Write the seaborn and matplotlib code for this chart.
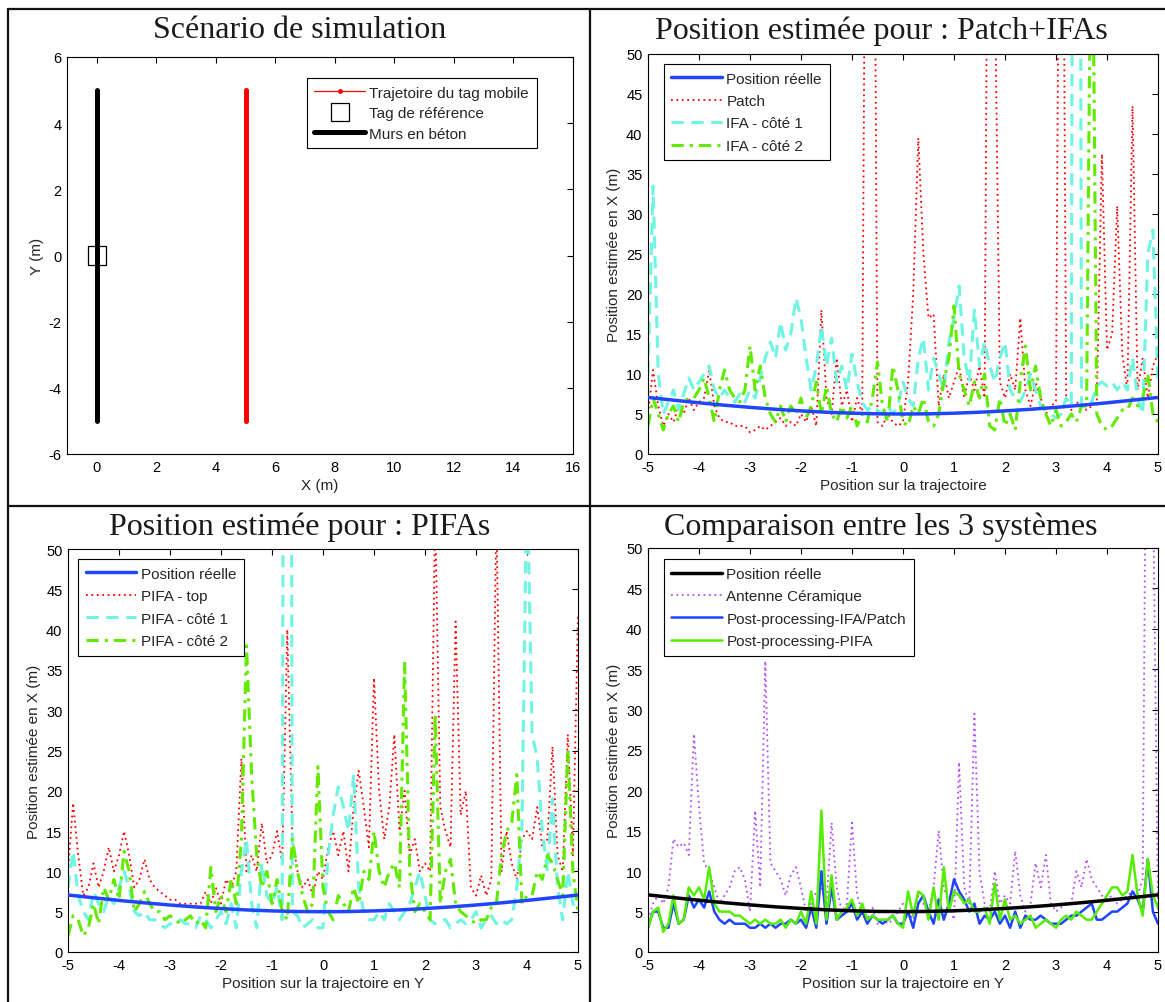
import numpy as np
import matplotlib
matplotlib.use("Agg")
import matplotlib.pyplot as plt
from matplotlib.lines import Line2D
import seaborn as sns

# ---------------------------------------------------------------- data
# sampling positions along the trajectory (m)
positions = np.round(np.linspace(-5.0, 5.0, 101), 2)
positions_coarse = np.round(np.linspace(-5.0, 5.0, 21), 2)

# true X position of the mobile tag (m)
reelle = [7.07, 6.73, 6.40, 6.10, 5.83, 5.59, 5.39, 5.22, 5.10, 5.02, 5.00,
          5.02, 5.10, 5.22, 5.39, 5.59, 5.83, 6.10, 6.40, 6.73, 7.07]

# scenario
traj_y = np.round(np.linspace(-5.0, 5.0, 201), 3)
traj_x = [5.0] * len(traj_y)
wall_x = [0.0, 0.0]
wall_y = [-5.0, 5.0]
tag_x = [0.0]
tag_y = [0.0]

# Patch + IFAs
patch = [5, 10.5, 6, 3.5, 5, 4, 6, 5, 7, 5.5,
         6.5, 7, 10.5, 6, 4.5, 4, 4, 3.5, 3.5, 3.5,
         2.7, 3, 3.5, 3, 3.5, 4, 4.5, 3.5, 4, 3.5,
         5, 4, 6, 3.5, 18, 7, 5, 12, 6, 8,
         4, 7, 5, 120, 120, 4, 3.5, 5, 4, 3.5,
         4, 9, 20, 39.5, 25, 17, 17.5, 6, 10, 7,
         9, 11, 7, 10, 8, 11, 7, 120, 60, 9,
         7, 10, 8, 17, 8, 6, 9, 7, 5, 6,
         6.5, 120, 6.5, 5.5, 6.5, 6, 5.5, 6, 6.5, 37.5,
         13, 15, 31, 12.5, 8, 43.5, 8, 12, 7, 11,
         12.5]
ifa_c1 = [10, 33.5, 10, 5, 6.5, 8, 5.5, 7.5, 9.5, 8,
          9, 10, 11, 8, 7, 8, 7, 6.5, 7.5, 6.5,
          8, 7, 9.5, 12, 14, 12, 16.5, 13, 15, 19.5,
          17, 12, 8, 11, 16, 11, 14.5, 9, 11, 8,
          12.5, 9, 6.5, 5.5, 6, 5.5, 5, 6, 5, 6,
          9, 7, 6, 12, 14.5, 8, 12, 10, 8, 14,
          17, 21, 12, 9, 18, 11, 14, 11, 9, 12,
          14, 8, 7, 6.5, 8, 10, 8, 6, 5.5, 5,
          4.5, 5, 7, 6, 300, 6, 6, 6.5, 8.5, 9,
          8.5, 9, 8, 9, 8, 12, 7, 5, 25, 28,
          9]
ifa_c2 = [3.5, 7, 5, 3, 5, 6, 4, 6.5, 7, 7,
          8, 9.5, 7, 4, 8, 10.5, 8, 7, 6.5, 8,
          13.5, 8, 11, 7, 5, 4, 6, 4, 6, 5,
          7, 4.5, 6, 9, 5, 8.5, 5, 4, 6, 4.5,
          6, 3.5, 5, 4, 7, 11.5, 6, 4, 11, 8,
          4, 3.5, 6, 5, 7, 4, 3.5, 5, 9, 12,
          18.5, 10, 8, 6, 9, 7, 10, 3.5, 3, 7,
          3.5, 5, 3, 9, 13.5, 8, 11, 7, 5, 3.5,
          5.5, 3.5, 4, 5, 4, 6, 6, 80, 5, 3.5,
          3, 3.5, 4.5, 5.5, 5.5, 7, 6, 7, 10, 5,
          4]

# PIFAs
pifa_top = [10, 18.5, 12, 7, 8, 11, 8, 10, 13, 10,
            12, 15, 12, 8, 9, 11.5, 9, 8, 7.5, 7,
            6.5, 6.5, 6, 6, 6, 6, 6, 7.5, 6, 8,
            6, 9, 8, 10, 24, 10, 12, 10, 16, 11,
            12, 15, 11, 40, 14, 10, 8, 9, 7, 10,
            9, 13, 15, 12, 15, 10, 18, 22.5, 18, 13,
            34, 20, 14, 18, 27, 15, 20, 12, 14, 10,
            11, 10, 55, 18, 15, 13, 41, 17, 20, 8,
            7, 9.5, 7, 9, 55, 10, 15, 11, 9, 14,
            15, 14, 18, 13, 14, 25.5, 12, 10, 27, 12,
            42]
pifa_c1 = [8, 12.5, 7, 5, 4, 7.5, 6, 5, 7, 6,
           8, 10, 8, 5, 4.5, 5, 4, 4, 3.5, 3,
           3.5, 3.5, 4, 3.5, 3.5, 3, 4.5, 4, 3, 4,
           5, 3.5, 6, 3, 10, 14, 6, 3, 11, 7,
           6, 8, 4, 300, 5, 4.5, 3, 3.5, 4, 3,
           3, 12, 17, 20.5, 18, 15, 22, 8, 5, 4,
           4, 5, 4, 6, 5, 4, 5, 6, 8, 10,
           7, 4, 3.5, 4, 4, 3, 3.5, 4, 3.5, 4,
           5, 3, 4, 4.5, 3.5, 4, 3.5, 4, 8, 15,
           60, 27, 24, 15, 10, 19, 8, 4, 10, 6,
           5]
pifa_c2 = [2, 4.5, 4, 2, 3, 6, 3.5, 8, 6.5, 9,
           6.5, 12.5, 10, 5, 6, 7.5, 6, 5, 5, 4,
           4.5, 4, 3.5, 4, 4.5, 3.5, 4, 3, 10.5, 5,
           7, 5, 9, 6, 14, 38, 22, 12, 8, 10,
           6, 9, 5, 4, 14, 10, 7, 5, 6, 23,
           8, 5, 4, 7, 6, 5, 8, 6, 10, 9,
           15, 10, 8, 10, 11, 8, 36, 10, 5, 6,
           5, 4, 29.5, 6, 10, 11.5, 6, 5, 4.5, 4,
           3.5, 4, 4, 5.5, 6, 12, 15, 16, 22, 6,
           7, 7, 10, 9, 12, 11, 9, 7, 25, 10,
           5]

# comparison of the three systems
ceramique = [4, 6, 7, 6, 8, 14, 13, 13.5, 12, 27,
             18, 11, 10, 8, 6, 7, 8, 10, 10.5, 9,
             5, 17.5, 8, 36, 11, 10, 9, 7, 9.5, 10.5,
             8, 5, 6, 7.5, 8, 6, 16, 8, 5, 6,
             16, 7, 5, 4, 5.5, 3.5, 4, 3.5, 4, 5,
             6, 5, 4, 7, 6, 5, 8, 15, 8, 6,
             4, 23.5, 8, 6, 29.5, 10, 6, 5, 10, 6,
             7, 6, 12.5, 7, 5, 6, 11, 8, 12, 6,
             5, 5.5, 6, 6, 10, 8, 11.5, 9, 8, 7,
             6.5, 7, 6, 6.5, 7, 7.5, 7, 9, 100, 60,
             5]
pp_ifa_patch = [3, 5, 5, 3, 3, 6, 3.5, 4, 7, 5.5,
                6.5, 5.5, 7.5, 5, 4, 3.5, 4, 3.5, 3.5, 3.5,
                3, 3, 3.5, 3, 3.5, 3, 3.5, 3.5, 4, 3.5,
                4, 3, 5.5, 3, 10, 3.5, 8, 4, 4.5, 5,
                6, 4, 5, 3.5, 4.5, 4, 3.5, 4, 4.5, 3.5,
                3.5, 5, 3, 6, 7, 5, 3.5, 6.5, 4, 6,
                9, 7.5, 6.5, 5, 6, 3.5, 4.5, 4, 5, 3.5,
                4.5, 3, 5, 3, 4.5, 4, 4, 4.5, 4, 3.5,
                3.5, 3.5, 4, 4.5, 4.5, 5, 5.5, 6, 4, 4,
                4.5, 5, 5, 5.5, 6, 7.5, 6.5, 5, 11.5, 5,
                3.5]
pp_pifa = [3, 5, 5.5, 2.5, 3.5, 7, 3.5, 4, 8, 7,
           8, 6.5, 10.5, 6, 5, 5, 5, 4.5, 4.5, 4,
           3.5, 4, 3.5, 4, 3.5, 3.5, 4, 3, 4, 3.5,
           5, 3.5, 7.5, 3.5, 17.5, 4, 9.5, 4, 5, 5.5,
           6.5, 4.5, 6, 4, 4.5, 4, 4, 4, 4.5, 3.5,
           3, 7.5, 4.5, 7.5, 7, 4, 8, 4, 10.5, 5,
           7.5, 7, 6, 6.5, 5, 5, 5.5, 3.5, 8.5, 4,
           6.5, 4, 4.5, 3.5, 4, 4.5, 3, 3.5, 4, 3.5,
           3, 4, 4.5, 4, 5, 4.5, 4, 4, 5, 6,
           7, 8, 8, 7, 7.5, 12, 7, 4.5, 11.5, 7,
           5.5]

# ---------------------------------------------------------------- style
sns.set_theme(style="white")
plt.rcParams['font.family'] = ['Liberation Sans', 'DejaVu Sans']
plt.rcParams['axes.unicode_minus'] = False
plt.rcParams['axes.edgecolor'] = 'black'
plt.rcParams['axes.linewidth'] = 0.8

BLUE = '#1f45ff'
RED = '#ff0000'
CYAN = '#6ff5e2'
GREEN_DD = '#62ea00'
PURPLE = '#b54dff'
GREEN = '#55ee00'

FS = 11       # labels and legends
TICK_FS = 10.5

W, H = 1165, 1003
fig = plt.figure(figsize=(W / 100, H / 100), dpi=100)
fig.patch.set_facecolor('white')


def px_axes(left, top, right, bottom):
    return fig.add_axes([left / W, 1 - bottom / H, (right - left) / W, (bottom - top) / H])


def style_axes(ax):
    ax.tick_params(direction='in', top=True, right=True, length=4, width=0.8,
                   labelsize=TICK_FS, colors='black', pad=4)
    for s in ax.spines.values():
        s.set_visible(True)
        s.set_color('black')
        s.set_linewidth(0.8)
    ax.grid(False)


def add_legend(ax, handles, labels, anchor, loc='upper left', spacing=0.55):
    leg = ax.legend(handles, labels, loc=loc, bbox_to_anchor=anchor, fontsize=FS,
                    frameon=True, fancybox=False, framealpha=1, edgecolor='black',
                    handlelength=3.3, handletextpad=0.3, labelspacing=spacing,
                    borderpad=0.5, borderaxespad=0)
    leg.get_frame().set_linewidth(0.8)
    return leg


def line(ax, x, y, **kw):
    sns.lineplot(x=x, y=y, ax=ax, estimator=None, sort=False, legend=False, **kw)
    return ax.lines[-1]


# ---------------------------------------------------------------- panel 1
ax1 = px_axes(67, 58, 573, 455)
line(ax1, traj_x, traj_y, color=RED, linewidth=0.9, marker='.',
     markersize=5.5, markeredgewidth=0.8, markeredgecolor=RED)
line(ax1, wall_x, wall_y, color='black', linewidth=3.6)
sns.scatterplot(x=tag_x, y=tag_y, ax=ax1, marker='s', s=170, facecolor='none',
                edgecolor='black', linewidth=0.9, zorder=5, legend=False)
ax1.set_xlim(-1, 16)
ax1.set_ylim(-6, 6)
ax1.set_xticks(range(0, 17, 2))
ax1.set_yticks(range(-6, 7, 2))
ax1.set_xlabel('X (m)', fontsize=FS, labelpad=3)
ax1.set_ylabel('Y (m)', fontsize=FS, labelpad=3)
style_axes(ax1)
leg1_handles = [
    Line2D([], [], color=RED, lw=0.9, marker='.', markersize=5),
    Line2D([], [], color='black', lw=0, marker='s', markersize=13,
           markerfacecolor='none', markeredgewidth=0.9),
    Line2D([], [], color='black', lw=3.6),
]
add_legend(ax1, leg1_handles,
           ['Trajetoire du tag mobile', 'Tag de référence', 'Murs en béton'],
           (0.928, 0.947), loc='upper right', spacing=0.42)

# ---------------------------------------------------------------- panel 2
DOT = (0, (1, 2))
DASH = (0, (4, 2.5))
DASHDOT = (0, (4, 2, 1, 2))

ax2 = px_axes(648, 55, 1158, 455)
h1 = line(ax2, positions_coarse, reelle, color=BLUE, linewidth=2.5, zorder=4)
h2 = line(ax2, positions, patch, color=RED, linewidth=1.3, linestyle=DOT)
h3 = line(ax2, positions, ifa_c1, color=CYAN, linewidth=2.2, linestyle=DASH)
h4 = line(ax2, positions, ifa_c2, color=GREEN_DD, linewidth=2.2, linestyle=DASHDOT)
ax2.set_xlim(-5, 5)
ax2.set_ylim(0, 50)
ax2.set_xticks(range(-5, 6))
ax2.set_yticks(range(0, 51, 5))
ax2.set_xlabel('Position sur la trajectoire', fontsize=FS, labelpad=3)
ax2.set_ylabel('Position estimée en X (m)', fontsize=FS, labelpad=4)
style_axes(ax2)
add_legend(ax2, [h1, h2, h3, h4],
           ['Position réelle', 'Patch', 'IFA - côté 1', 'IFA - côté 2'],
           (0.031, 0.975))

# ---------------------------------------------------------------- panel 3
ax3 = px_axes(68, 550, 578, 953)
g1 = line(ax3, positions_coarse, reelle, color=BLUE, linewidth=2.5, zorder=4)
g2 = line(ax3, positions, pifa_top, color=RED, linewidth=1.3, linestyle=DOT)
g3 = line(ax3, positions, pifa_c1, color=CYAN, linewidth=2.2, linestyle=DASH)
g4 = line(ax3, positions, pifa_c2, color=GREEN_DD, linewidth=2.2, linestyle=DASHDOT)
ax3.set_xlim(-5, 5)
ax3.set_ylim(0, 50)
ax3.set_xticks(range(-5, 6))
ax3.set_yticks(range(0, 51, 5))
ax3.set_xlabel('Position sur la trajectoire en Y', fontsize=FS, labelpad=3)
ax3.set_ylabel('Position estimée en X (m)', fontsize=FS, labelpad=4)
style_axes(ax3)
add_legend(ax3, [g1, g2, g3, g4],
           ['Position réelle', 'PIFA - top', 'PIFA - côté 1', 'PIFA - côté 2'],
           (0.02, 0.975))

# ---------------------------------------------------------------- panel 4
ax4 = px_axes(648, 549, 1158, 953)
k1 = line(ax4, positions_coarse, reelle, color='black', linewidth=2.5, zorder=4)
k2 = line(ax4, positions, ceramique, color=PURPLE, linewidth=1.3, linestyle=DOT)
k3 = line(ax4, positions, pp_ifa_patch, color=BLUE, linewidth=1.8)
k4 = line(ax4, positions, pp_pifa, color=GREEN, linewidth=1.8)
ax4.set_xlim(-5, 5)
ax4.set_ylim(0, 50)
ax4.set_xticks(range(-5, 6))
ax4.set_yticks(range(0, 51, 5))
ax4.set_xlabel('Position sur la trajectoire en Y', fontsize=FS, labelpad=3)
ax4.set_ylabel('Position estimée en X (m)', fontsize=FS, labelpad=4)
style_axes(ax4)
add_legend(ax4, [k1, k2, k3, k4],
           ['Position réelle', 'Antenne Céramique',
            'Post-processing-IFA/Patch', 'Post-processing-PIFA'],
           (0.031, 0.972))

# ---------------------------------------------------------------- titles and frame
title_kw = dict(ha='center', va='center', fontsize=23,
                family=['Liberation Serif', 'DejaVu Serif'], color='#1a1a1a')
fig.text(300 / W, 1 - 31 / H, 'Scénario de simulation', **title_kw)
fig.text(881 / W, 1 - 31 / H, 'Position estimée pour : Patch+IFAs', **title_kw)
fig.text(300 / W, 1 - 527 / H, 'Position estimée pour : PIFAs', **title_kw)
fig.text(881 / W, 1 - 527 / H, 'Comparaison entre les 3 systèmes', **title_kw)


def frame_line(x0, y0, x1, y1):
    fig.add_artist(Line2D([x0 / W, x1 / W], [1 - y0 / H, 1 - y1 / H],
                          transform=fig.transFigure, color='#111111', lw=1.6))


frame_line(8, 10, 1165, 10)
frame_line(8, 10, 8, 1003)
frame_line(590, 10, 590, 1003)
frame_line(8, 507, 1165, 507)

fig.savefig('out.png', dpi=100, facecolor='white')
